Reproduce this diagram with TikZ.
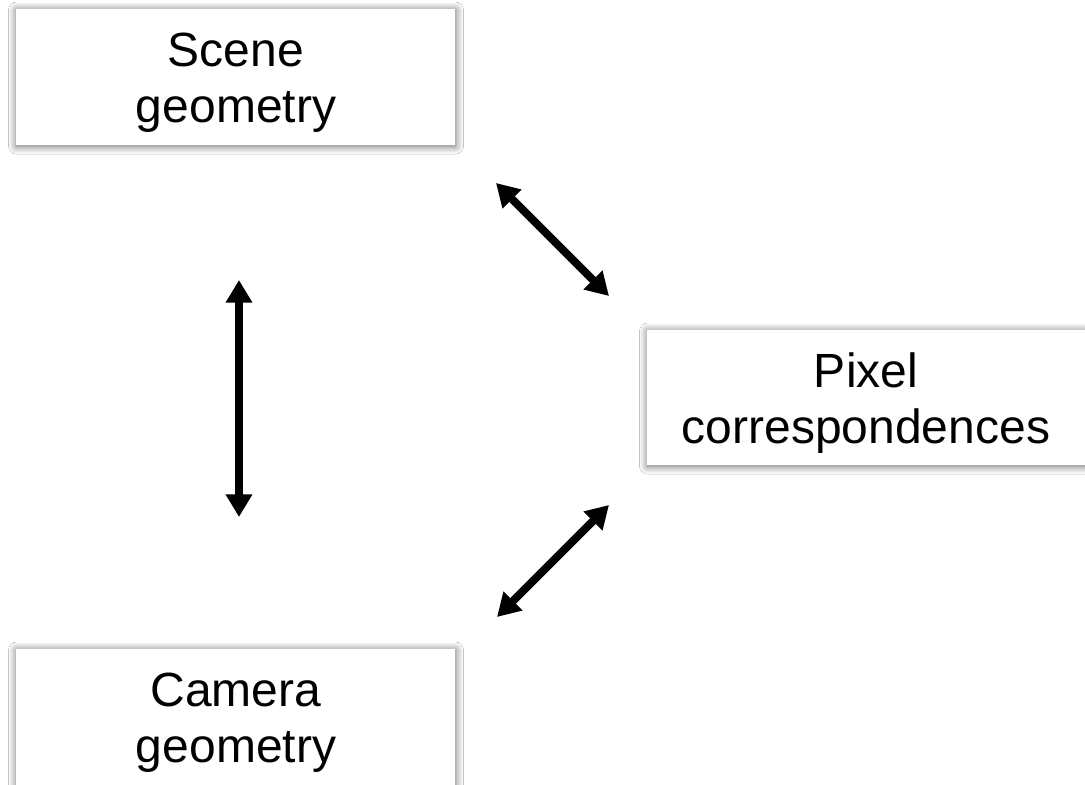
\documentclass[tikz,border=0pt]{standalone}
\usepackage{fontspec}
\setmainfont{Liberation Sans}
\usetikzlibrary{arrows.meta,shadows.blur}
\tikzset{
  box/.style={rectangle, fill=white, draw=none, align=center,
    font=\fontsize{36}{42}\selectfont, inner sep=0pt,
    blur shadow={shadow xshift=0.4pt, shadow yshift=-0.8pt,
      shadow blur radius=6pt, shadow blur steps=12, shadow opacity=60}},
  boxtext/.style={align=center, font=\fontsize{36}{42}\selectfont, inner sep=0pt},
  link/.style={line width=6pt, {Triangle[width=19pt,length=17pt]}-{Triangle[width=19pt,length=17pt]}}
}
\begin{document}
\begin{tikzpicture}[x=0.75pt,y=-0.75pt]
  \clip (0,0) rectangle (1085,785);
  \fill[white] (0,0) rectangle (1085,785);

  % boxes with a soft shadow; the labels sit slightly below the box centre
  \node[box, minimum width=329.25pt, minimum height=102pt] (scene) at (235.5,77) {};
  \node[boxtext] (scene-t) at (236,83) {Scene\\geometry};
  \node[box, minimum width=330.75pt, minimum height=101.25pt] (pixel) at (867.5,397.5) {};
  \node[boxtext] (pixel-t) at (866,403) {Pixel\\correspondences};
  \node[box, minimum width=329.25pt, minimum height=103.5pt] (camera) at (235.5,718) {};
  \node[boxtext] (camera-t) at (236,723) {Camera\\geometry};

  % arrow end points, kept clear of the boxes
  \coordinate (sc-s) at (239,280);
  \coordinate (ca-n) at (239,517);
  \coordinate (sc-e) at (496,183);
  \coordinate (px-nw) at (609,296);
  \coordinate (px-sw) at (609,505);
  \coordinate (ca-e) at (497,617);

  \draw[link] (sc-s) -- (ca-n);
  \draw[link] (sc-e) -- (px-nw);
  \draw[link] (px-sw) -- (ca-e);
\end{tikzpicture}
\end{document}
